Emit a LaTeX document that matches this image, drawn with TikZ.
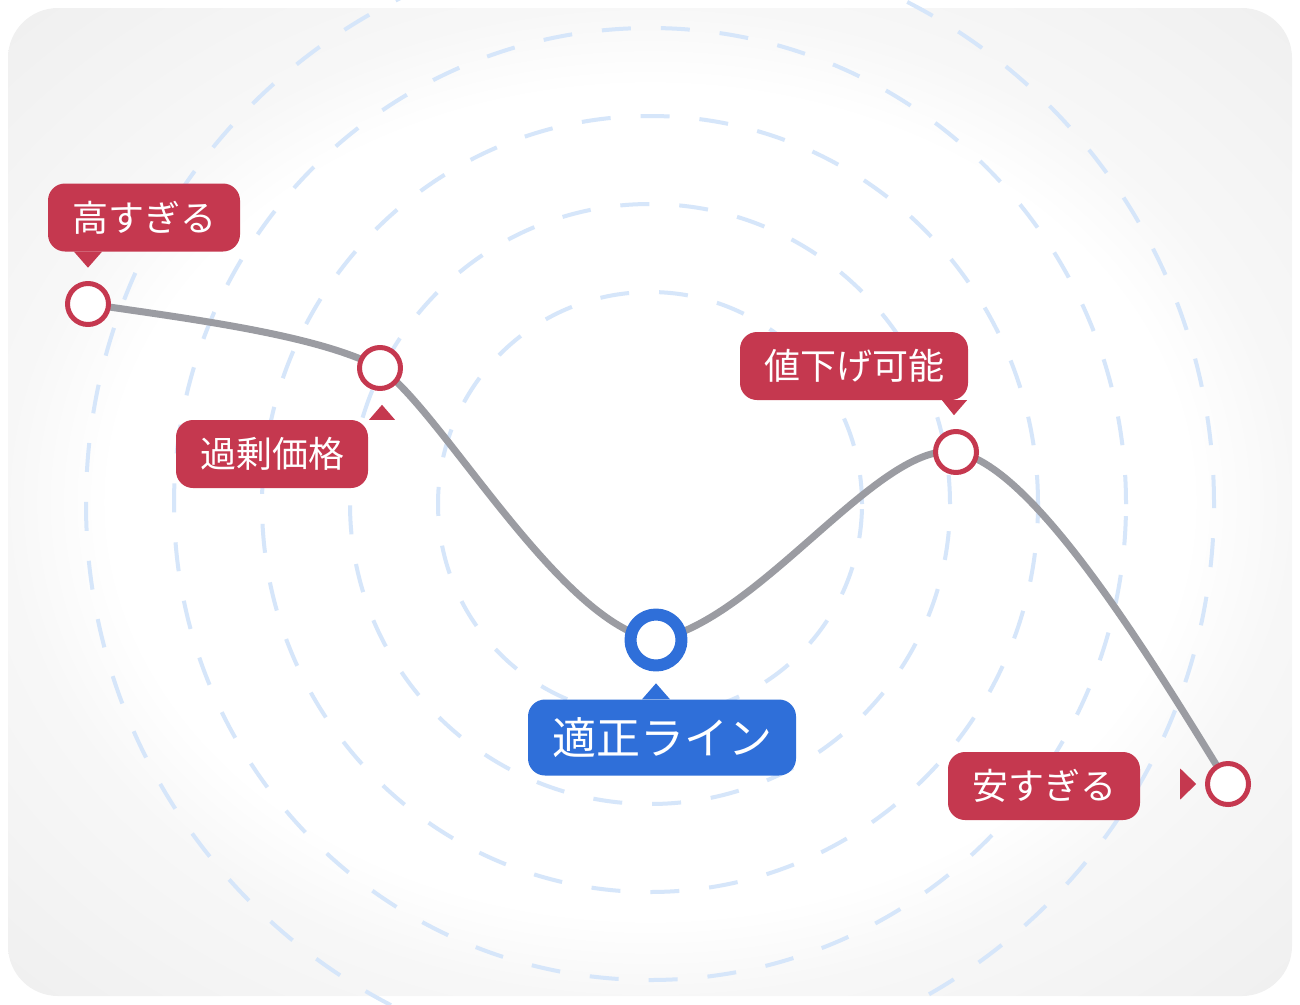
\documentclass[tikz,border=0pt]{standalone}
\usepackage{fontspec}
\newfontfamily\jpfont{Noto Sans CJK JP}
\usetikzlibrary{calc}
\definecolor{tagred}{HTML}{C5384F}
\definecolor{fairblue}{HTML}{2F6FD9}
\definecolor{curvegray}{HTML}{9B9CA2}
\definecolor{ringblue}{HTML}{D6E6FA}
\pgfdeclareradialshading{panelshade}{\pgfpoint{0bp}{0bp}}{%
  color(0bp)=(white); color(21bp)=(white); color(25bp)=(black!3); color(35bp)=(black!6); color(50bp)=(black!6)}

\begin{document}
\begin{tikzpicture}
  [
  x=1pt, y=-1pt,
  line join=round,
  pointnode/.style={circle, inner sep=0pt, minimum size=41pt, line width=5pt, draw=tagred, fill=white},
  fairnode/.style={circle, inner sep=0pt, minimum size=51pt, line width=12pt, draw=fairblue, fill=white},
  tagnode/.style={rectangle, rounded corners=17pt, fill=tagred, text=white, inner sep=0pt,
    minimum width=192pt, minimum height=68pt, font=\jpfont\fontsize{36}{40}\selectfont},
  fairtag/.style={tagnode, fill=fairblue, minimum width=268pt, minimum height=76pt,
    font=\jpfont\fontsize{44}{48}\selectfont},
  ring/.style={draw=ringblue, line width=4pt, dash pattern=on 29pt off 30pt},
  ]

  \useasboundingbox (0,0) rectangle (1300,1004);
  \shade[shading=panelshade, rounded corners=50pt] (8,8) rectangle (1292,996);

  % dashed rings
  \coordinate (ctr) at (650,504);
  \foreach \r in {212,300,388,476,564} {
    \draw[ring] (ctr) circle[radius=\r pt];
  }

  % price curve
  \coordinate (q1) at (88,304);
  \coordinate (q2) at (380,368);
  \coordinate (q3) at (656,640);
  \coordinate (q4) at (956,452);
  \coordinate (q5) at (1228,784);

  \draw[curvegray, line width=7pt, line cap=round]
    (q1) .. controls (200,320) and (320,336) .. (q2)
         .. controls (440,408) and (560,625) .. (q3)
         .. controls (760,620) and (880,440) .. (q4)
         .. controls (1030,464) and (1140,640) .. (q5);

  \node[pointnode] (p1) at (q1) {};
  \node[pointnode] (p2) at (q2) {};
  \node[fairnode] (p3) at (q3) {};
  \node[pointnode] (p4) at (q4) {};
  \node[pointnode] (p5) at (q5) {};

  % tags
  \node[tagnode] (t1) at (144,217.5) {高すぎる};
  \node[tagnode] (t2) at (272,454) {過剰価格};
  \node[fairtag] (t3) at (662,737.5) {適正ライン};
  \node[tagnode, minimum width=228pt] (t4) at (854,366) {値下げ可能};
  \node[tagnode] (t5) at (1044,786) {安すぎる};

  \fill[tagred] (t1.south -| p1) ++(-14,0) -- ++(28,0) -- ++(-14,16) -- cycle;
  \fill[tagred] (t2.north -| p2) ++(-11,0) -- ++(26,0) -- ++(-13,-15) -- cycle;
  \fill[fairblue] (t3.north -| p3) ++(-14,0) -- ++(28,0) -- ++(-14,-16) -- cycle;
  \fill[tagred] (t4.south -| p4) ++(-14,0) -- ++(25,0) -- ++(-13,15) -- cycle;
  \fill[tagred] (t5.east |- p5) ++(40,-15.5) -- ++(0,31) -- ++(16,-15.5) -- cycle;

\end{tikzpicture}
\end{document}
